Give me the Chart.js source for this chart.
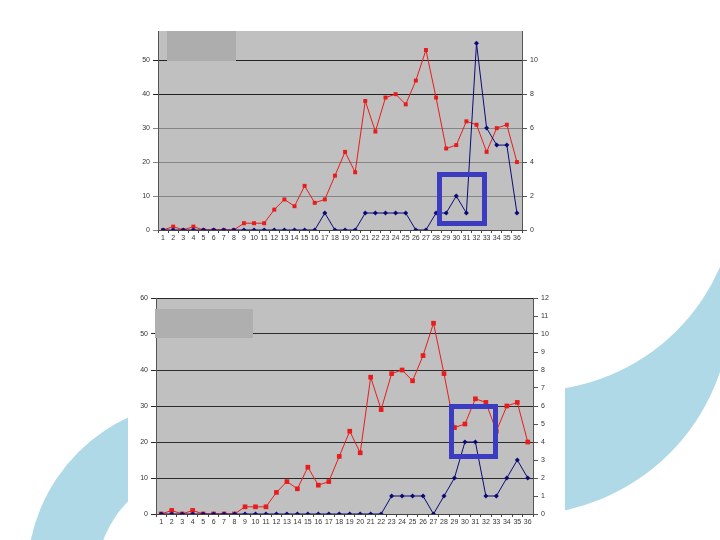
<!DOCTYPE html>
<html>
<head>
<meta charset="utf-8">
<script src="https://cdn.jsdelivr.net/npm/chart.js@4.4.1/dist/chart.umd.min.js"></script>
<style>
  html, body { margin: 0; padding: 0; background: #fff; }
  #stage { position: relative; width: 720px; height: 540px; overflow: hidden; }
  #deco { position: absolute; left: 0; top: 0; }
  .sheet { position: absolute; background: #fff; }
  .box { position: absolute; }
  #c1 { position: absolute; left: 120px; top: 20px; }
  #c2 { position: absolute; left: 120px; top: 285px; }
</style>
</head>
<body>
<div id="stage">
  <svg id="deco" width="720" height="540">
    <defs>
      <clipPath id="rightSide"><rect x="565" y="0" width="155" height="540"/></clipPath>
      <clipPath id="leftSide"><rect x="0" y="0" width="128" height="540"/></clipPath>
    </defs>
    <g clip-path="url(#rightSide)">
      <circle cx="521" cy="305" r="210" fill="#afd9e6"/>
      <circle cx="531" cy="185" r="206" fill="#fff"/>
    </g>
    <g clip-path="url(#leftSide)">
      <circle cx="202" cy="576" r="175" fill="#afd9e6"/>
      <circle cx="202" cy="576" r="105" fill="#fff"/>
    </g>
  </svg>
  <div class="sheet" style="left:128px; top:280px; width:437px; height:260px;"></div>
  <canvas id="c1" width="430" height="240"></canvas>
  <canvas id="c2" width="440" height="255"></canvas>
  <div class="box" style="left:167px; top:31px; width:69px; height:30px; background:#adadad;"></div>
  <div class="box" style="left:155px; top:309px; width:98px; height:29px; background:#afafaf;"></div>
  <div class="box" style="left:437px; top:172px; width:40px; height:44px; border:5px solid #3c3cc0;"></div>
  <div class="box" style="left:449px; top:404px; width:39px; height:45px; border:5px solid #3c3cc0;"></div>
</div>
<script>
// day numbers along the bottom
const days = ['1','2','3','4','5','6','7','8','9','10','11','12','13','14','15','16','17','18',
              '19','20','21','22','23','24','25','26','27','28','29','30','31','32','33','34','35','36'];

// red series (left axis), same in both panels
const cases = [0,1,0,1,0,0,0,0,2,2,2,6,9,7,13,8,9,16,23,17,38,29,39,40,37,44,53,39,24,25,32,31,23,30,31,20];

// blue series (right axis)
const deathsTop    = [0,0,0,0,0,0,0,0,0,0,0,0,0,0,0,0,1,0,0,0,1,1,1,1,1,0,0,1,1,2,1,11,6,5,5,1];
const deathsBottom = [0,0,0,0,0,0,0,0,0,0,0,0,0,0,0,0,0,0,0,0,0,0,1,1,1,1,0,1,2,4,4,1,1,2,3,2];

const red  = '#e81c1c';
const navy = '#0a0a78';
const tickFont = { family: 'Liberation Sans', size: 7 };

const plotBg = {
  id: 'plotBg',
  beforeDraw(chart) {
    const a = chart.chartArea, ctx = chart.ctx;
    ctx.save();
    ctx.fillStyle = '#c0c0c0';
    ctx.fillRect(a.left, a.top, a.right - a.left, a.bottom - a.top);
    ctx.restore();
  }
};

function makeChart(id, blue, opt) {
  return new Chart(document.getElementById(id), {
    type: 'line',
    data: {
      labels: days,
      datasets: [
        {
          data: blue, yAxisID: 'y1',
          borderColor: navy, borderWidth: 1, tension: 0,
          pointStyle: 'rectRot', pointRadius: 2.5,
          pointBackgroundColor: navy, pointBorderColor: navy, pointBorderWidth: 0,
        },
        {
          data: cases, yAxisID: 'y',
          borderColor: red, borderWidth: 1, tension: 0,
          pointStyle: 'rect', pointRadius: opt.redR,
          pointBackgroundColor: red, pointBorderColor: red, pointBorderWidth: 0,
        },
      ],
    },
    options: {
      responsive: false,
      animation: false,
      layout: { padding: opt.pad },
      plugins: { legend: { display: false }, tooltip: { enabled: false } },
      scales: {
        x: {
          offset: true,
          border: { color: '#444', width: 1 },
          grid: { offset: true, drawOnChartArea: false, color: '#444', tickLength: 3 },
          ticks: { autoSkip: false, maxRotation: 0, font: tickFont, color: '#333', padding: 1 },
          afterFit: s => { s.height = opt.xh; },
        },
        y: {
          position: 'left', min: 0, max: opt.ymax,
          border: { color: '#555', width: 1 },
          grid: { color: opt.gridColor, tickLength: 5 },
          ticks: { stepSize: 10, includeBounds: false, font: tickFont, color: '#333', padding: 3 },
          afterFit: s => { s.width = opt.lw; },
        },
        y1: {
          position: 'right', min: 0, max: opt.ymax / 5,
          border: { color: '#555', width: 1 },
          grid: { drawOnChartArea: false, color: '#555', tickLength: 5 },
          ticks: { stepSize: opt.rstep, includeBounds: false, font: tickFont, color: '#333', padding: 3 },
          afterFit: s => { s.width = opt.rw; },
        },
      },
    },
    plugins: [plotBg],
  });
}

makeChart('c1', deathsTop, {
  ymax: 58.6, rstep: 2, redR: 2.8, lw: 38, rw: 28, xh: 30, pad: { top: 11 },
  gridColor: c => (c.tick && c.tick.value >= 40 ? '#222' : '#858585'),
});

makeChart('c2', deathsBottom, {
  ymax: 60, rstep: 1, redR: 3.3, lw: 36, rw: 27, xh: 26, pad: { top: 13 },
  gridColor: '#2a2a2a',
});
</script>
</body>
</html>
